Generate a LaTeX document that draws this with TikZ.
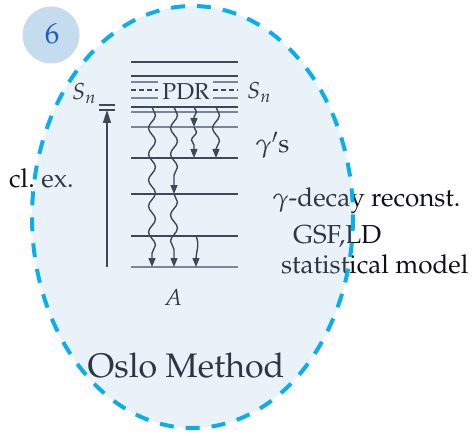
\documentclass[tikz,border=0pt]{standalone}
\usepackage[T1]{fontenc}
\usepackage{mathpazo}
\usetikzlibrary{arrows.meta,decorations.pathmorphing}
\definecolor{ellfill}{RGB}{155,191,228}
\definecolor{ellborder}{RGB}{10,174,239}
\definecolor{badgefill}{RGB}{197,220,239}
\definecolor{badgetext}{RGB}{30,95,190}
\definecolor{darkline}{RGB}{35,40,50}
\definecolor{grayline}{RGB}{115,120,130}
\definecolor{txt}{RGB}{15,17,22}
\begin{document}
\begin{tikzpicture}[x=1pt,y=-1pt,
  lvl/.style={line width=1.3pt,darkline},
  lvlg/.style={line width=1.3pt,grayline},
  lvld/.style={line width=1.3pt,darkline,dash pattern=on 5pt off 3pt},
  lab/.style={inner sep=0pt,text=txt,font=\fontsize{26pt}{31pt}\selectfont},
  labs/.style={inner sep=0pt,text=txt,font=\fontsize{23pt}{27pt}\selectfont},
  gam/.style={line width=1.4pt,darkline,decorate,
     decoration={snake,segment length=26pt,amplitude=3.5pt,post length=8pt},
     -{Triangle[length=9pt,width=7pt]}},
  gamshort/.style={line width=1.4pt,darkline,decorate,
     decoration={snake,segment length=16pt,amplitude=2.5pt,post length=7pt},
     -{Triangle[length=9pt,width=7pt]}}
]
\useasboundingbox (0,0) rectangle (474,433);

% badge
\node[circle,fill=badgefill,minimum size=57pt,inner sep=0pt] (badge) at (51,35) {};
\node[text=badgetext,font=\fontsize{29pt}{34pt}\selectfont,inner sep=0pt] (six) at (52,34) {6};

% level lines
\draw[lvl] (131,62) -- (238,62);
\draw[lvl] (131,76) -- (238,76);
\draw[lvlg] (131,82) -- (158,82) (213,82) -- (238,82);
\draw[lvld] (131,90) -- (158,90) (213,90) -- (238,90);
\draw[lvlg] (131,98) -- (158,98) (213,98) -- (238,98);
\draw[lvl] (131,107) -- (238,107);
\draw[lvlg] (131,112) -- (238,112);
\draw[lvlg] (131,127) -- (238,127);
\draw[lvl] (131,158) -- (238,158);
\draw[lvl] (131,194) -- (238,194);
\draw[lvl] (131,236) -- (238,236);
\draw[lvlg] (131,267) -- (238,267);

% short Sn lines and excitation arrow
\draw[lvl] (99,105) -- (115,105);
\draw[lvl] (99,110) -- (115,110);
\coordinate (exbot) at (107,267);
\coordinate (extop) at (107,110);
\draw[line width=1.5pt,darkline,-{Triangle[length=13pt,width=8pt]}] (exbot) -- (extop);

% gamma cascades
\coordinate (a1) at (152,107); \coordinate (a2) at (152,267);
\draw[gam] (a1) -- (a2);
\coordinate (b1) at (174,107); \coordinate (b2) at (174,194); \coordinate (b3) at (174,267);
\draw[gam] (b1) -- (b2);
\draw[gam] (b2) -- (b3);
\coordinate (c1) at (194,107); \coordinate (c2) at (194,127); \coordinate (c3) at (194,158);
\draw[gamshort] (c1) -- (c2);
\draw[gamshort] (c2) -- (c3);
\coordinate (d1) at (216,107); \coordinate (d2) at (216,158);
\draw[gam] (d1) -- (d2);
\coordinate (e1) at (196,236); \coordinate (e2) at (196,267);
\draw[line width=1.4pt,darkline,-{Triangle[length=9pt,width=7pt]}] (e1) .. controls (200,245) and (196,252) .. (e2);

% labels
\node[labs,anchor=base west] (snl) at (72,100) {$S_n$};
\node[labs,anchor=base west] (snr) at (247,99) {$S_n$};
\node[labs,anchor=base] (pdr) at (186,100) {PDR};
\node[lab,anchor=base west] (gs) at (255,153) {$\gamma'$s};
\node[lab,anchor=base west] (cl) at (9,187) {cl.\ ex.};
\node[labs,anchor=base] (A) at (173,305) {$A$};
\node[lab,anchor=base west] (gd) at (272,207) {$\gamma$-decay reconst.};
\node[lab,anchor=base west] (gsf) at (293,243) {GSF,LD};
\node[lab,anchor=base west] (sm) at (281,273) {statistical model};
\node[inner sep=0pt,text=txt,font=\fontsize{34pt}{40pt}\selectfont,anchor=base] (oslo) at (186,377) {Oslo Method};

% translucent ellipse overlay and dashed border
\fill[ellfill,fill opacity=0.22] (192.5,217) ellipse [x radius=160.5,y radius=211];
\draw[ellborder,line width=4pt,dash pattern=on 14pt off 12pt] (192.5,217) ellipse [x radius=160.5,y radius=211];
\end{tikzpicture}
\end{document}
